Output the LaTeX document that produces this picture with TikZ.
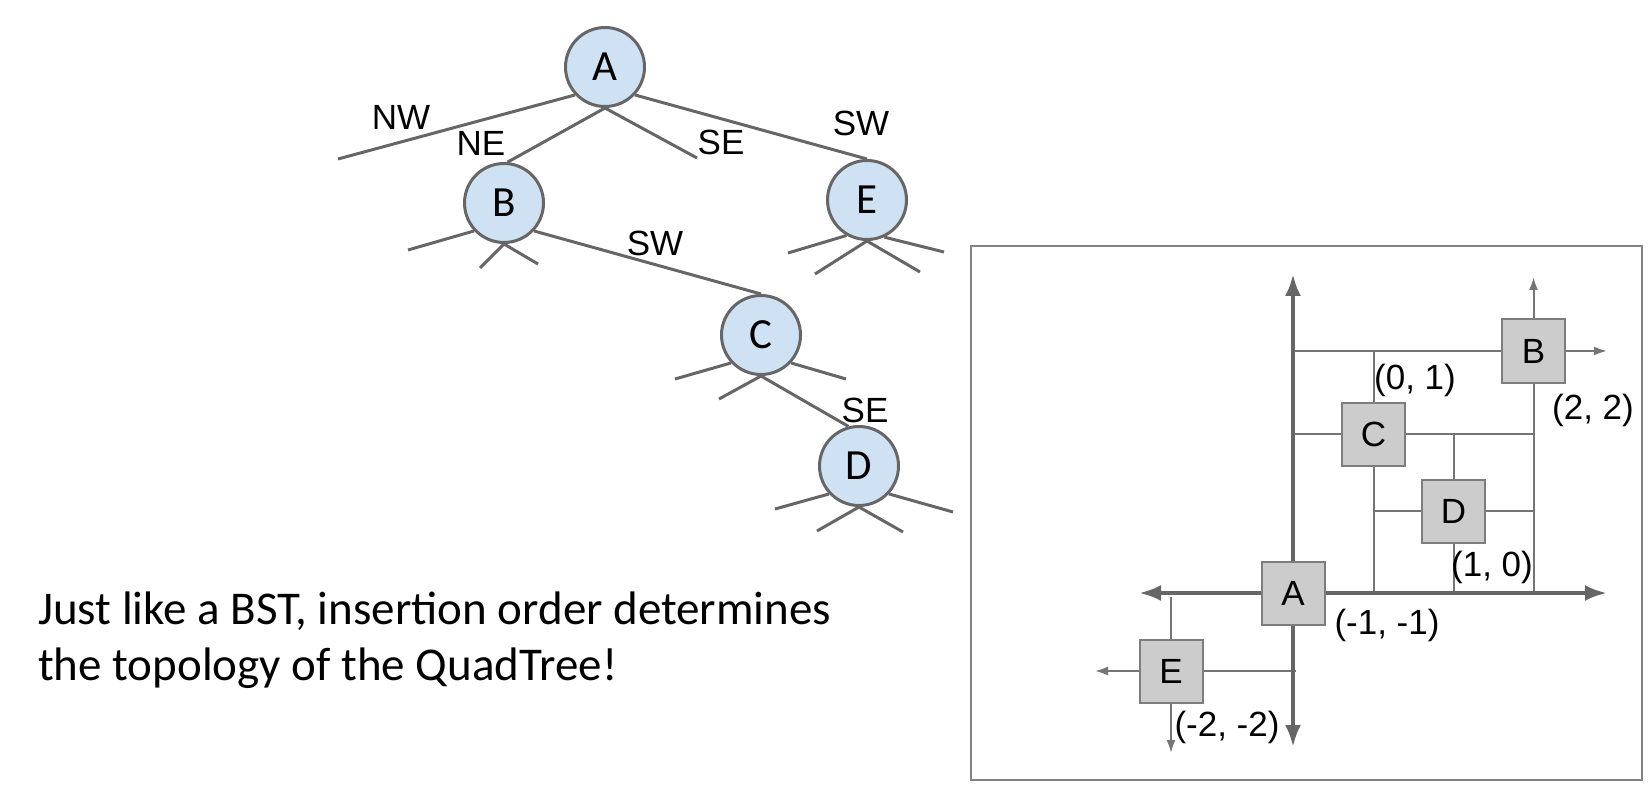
\documentclass[tikz,border=0pt]{standalone}
\usepackage{fontspec}
\setmainfont{Liberation Sans}
\newfontfamily\calfont{Carlito}
\usetikzlibrary{arrows.meta}
\definecolor{nodeblue}{RGB}{207,226,243}
\definecolor{linegray}{RGB}{102,102,102}
\definecolor{boxfill}{RGB}{204,204,204}
\definecolor{boxline}{RGB}{125,125,125}
\definecolor{framegray}{RGB}{130,130,130}
\tikzset{
	treenode/.style={circle, draw=linegray, fill=nodeblue, line width=3pt, minimum size=79pt, inner sep=0pt, font=\calfont\fontsize{43}{43}\selectfont},
	branch/.style={draw=linegray, line width=3pt},
	quadlabel/.style={inner sep=0pt, font=\fontsize{35}{35}\selectfont},
	pointbox/.style={rectangle, draw=boxline, fill=boxfill, line width=2pt, minimum size=63pt, inner sep=0pt, font=\fontsize{35}{35}\selectfont},
	axis/.style={draw=linegray, line width=4pt, -{Latex[length=22pt,width=16pt]}},
	split/.style={draw=linegray!90, line width=2pt},
	splitarrow/.style={split, -{Latex[length=13pt,width=9pt]}}
}
\begin{document}
\begin{tikzpicture}[x=1pt, y=-1pt]
\useasboundingbox (0,0) rectangle (1651,799);
% the tree
	\node[treenode] (A0) at (605,67) {A};
	\node[treenode] (B0) at (504,203) {B};
	\node[treenode] (E0) at (867,200) {E};
	\node[treenode] (C0) at (761,335) {C};
	\node[treenode] (D0) at (859,466) {D};
	% free ends of empty children
	\coordinate (Anw) at (338,159);
	\coordinate (Ase) at (697,158);
	\coordinate (Bnw) at (408,250);
	\coordinate (Bne) at (480,268);
	\coordinate (Bse) at (538,264);
	\coordinate (Cnw) at (675,379);
	\coordinate (Cne) at (719,399);
	\coordinate (Csw) at (846,379);
	\coordinate (Dnw) at (775,509);
	\coordinate (Dne) at (817,531);
	\coordinate (Dse) at (903,532);
	\coordinate (Dsw) at (953,512);
	\coordinate (Enw) at (788,253);
	\coordinate (Ene) at (815,274);
	\coordinate (Ese) at (920,272);
	\coordinate (Esw) at (944,252);
	% edges
	\draw[branch] (A0.-137) -- (Anw);
	\draw[branch] (A0.south) -- (B0.85);
	\draw[branch] (A0.south) -- (Ase);
	\draw[branch] (A0.-43) -- (E0.north);
	\draw[branch] (B0.-137) -- (Bnw);
	\draw[branch] (B0.south) -- (Bne);
	\draw[branch] (B0.south) -- (Bse);
	\draw[branch] (B0.-43) -- (C0.north);
	\draw[branch] (C0.-137) -- (Cnw);
	\draw[branch] (C0.south) -- (Cne);
	\draw[branch] (C0.south) -- (D0.105);
	\draw[branch] (C0.-43) -- (Csw);
	\draw[branch] (D0.-137) -- (Dnw);
	\draw[branch] (D0.south) -- (Dne);
	\draw[branch] (D0.south) -- (Dse);
	\draw[branch] (D0.-43) -- (Dsw);
	\draw[branch] (E0.-120) -- (Enw);
	\draw[branch] (E0.south) -- (Ene);
	\draw[branch] (E0.south) -- (Ese);
	\draw[branch] (E0.-65) -- (Esw);
	% edge labels
	\node[quadlabel] (lNW) at (401,117) {NW};
	\node[quadlabel] (lNE) at (481,143) {NE};
	\node[quadlabel] (lSE) at (721,142) {SE};
	\node[quadlabel] (lSW) at (861,123) {SW};
	\node[quadlabel] (lBC) at (655,243) {SW};
	\node[quadlabel] (lCD) at (865,410) {SE};
% caption
	\node[anchor=base west, inner sep=0pt, font=\calfont\fontsize{47}{56}\selectfont] (note1) at (38,624) {Just like a BST, insertion order determines};
	\node[anchor=base west, inner sep=0pt, font=\calfont\fontsize{47}{56}\selectfont] (note2) at (38,680) {the topology of the QuadTree!};
% the plane
	\draw[framegray, line width=2pt] (971,246) rectangle (1642,780);
	\coordinate (axW) at (1139,593);
	\coordinate (axE) at (1607,593);
	\coordinate (axN) at (1293,274);
	\coordinate (axS) at (1293,747);
	\coordinate (bN) at (1533.5,277);
	\coordinate (bE) at (1607,351);
	\coordinate (bW) at (1293,351);
	\coordinate (bS) at (1533.5,593);
	\coordinate (cN) at (1373.5,351);
	\coordinate (cS) at (1373.5,593);
	\coordinate (cW) at (1293,434);
	\coordinate (cE) at (1533.5,434);
	\coordinate (dN) at (1453.5,434);
	\coordinate (dS) at (1453.5,593);
	\coordinate (dW) at (1373.5,511);
	\coordinate (dE) at (1533.5,511);
	\coordinate (eN) at (1171,597);
	\coordinate (eW) at (1095,671);
	\coordinate (eE) at (1296,671);
	\coordinate (eS) at (1171,753);
	% split lines
	\draw[split] (1533.5,351) -- (bW);
	\draw[split] (1533.5,351) -- (bS);
	\draw[split] (1373.5,434) -- (cN);
	\draw[split] (1373.5,434) -- (cS);
	\draw[split] (1373.5,434) -- (cW);
	\draw[split] (1373.5,434) -- (cE);
	\draw[split] (1453.5,511) -- (dN);
	\draw[split] (1453.5,511) -- (dS);
	\draw[split] (1453.5,511) -- (dW);
	\draw[split] (1453.5,511) -- (dE);
	\draw[split] (1171,671) -- (eN);
	\draw[split] (1171,671) -- (eE);
	% les axes
	\draw[axis] (1293,593) -- (axW);
	\draw[axis] (1293,593) -- (axE);
	\draw[axis] (1293,593) -- (axN);
	\draw[axis] (1293,593) -- (axS);
	% points
	\node[pointbox] (A1) at (1293,593) {A};
	\node[pointbox] (B1) at (1533.5,351) {B};
	\node[pointbox] (C1) at (1373.5,434) {C};
	\node[pointbox] (D1) at (1453.5,511) {D};
	\node[pointbox] (E1) at (1171,671) {E};
	\draw[splitarrow] (B1.north) -- (bN);
	\draw[splitarrow] (B1.east) -- (bE);
	\draw[splitarrow] (E1.west) -- (eW);
	\draw[splitarrow] (E1.south) -- (eS);
	% coordinates
	\node[quadlabel] (pA) at (1387,625) {(-1, -1)};
	\node[quadlabel] (pB) at (1593,410) {(2, 2)};
	\node[quadlabel] (pC) at (1415,380) {(0, 1)};
	\node[quadlabel] (pD) at (1492,567) {(1, 0)};
	\node[quadlabel] (pE) at (1227,727) {(-2, -2)};
\end{tikzpicture}
\end{document}
